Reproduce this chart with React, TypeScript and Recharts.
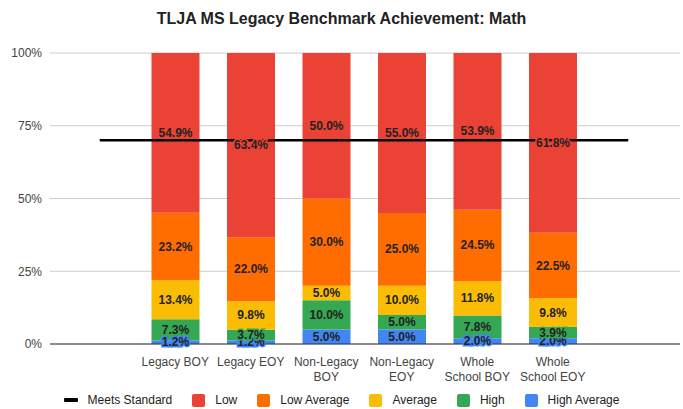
import { ComposedChart, Bar, Line, XAxis, YAxis, CartesianGrid, LabelList } from 'recharts';

// first and last slots are empty so the Meets Standard line runs past the bars
const categories = ['', 'Legacy BOY', 'Legacy EOY', 'Non-Legacy BOY', 'Non-Legacy EOY', 'Whole School BOY', 'Whole School EOY', ''];
const highAverage = [null, 1.2, 1.2, 5.0, 5.0, 2.0, 2.0, null];
const high = [null, 7.3, 3.7, 10.0, 5.0, 7.8, 3.9, null];
const average = [null, 13.4, 9.8, 5.0, 10.0, 11.8, 9.8, null];
const lowAverage = [null, 23.2, 22.0, 30.0, 25.0, 24.5, 22.5, null];
const low = [null, 54.9, 63.4, 50.0, 55.0, 53.9, 61.8, null];
const meetsStandard = [70, 70, 70, 70, 70, 70, 70, 70];
const yTicks = [0, 25, 50, 75, 100];

const data = categories.map((name, i) => ({
  name,
  highAverage: highAverage[i],
  high: high[i],
  average: average[i],
  lowAverage: lowAverage[i],
  low: low[i],
  meets: meetsStandard[i],
}));

const FONT = '"Liberation Sans", Arial, sans-serif';

const series = [
  { key: 'highAverage', name: 'High Average', color: '#4285F4' },
  { key: 'high', name: 'High', color: '#34A853' },
  { key: 'average', name: 'Average', color: '#FBBC04' },
  { key: 'lowAverage', name: 'Low Average', color: '#FF6D01' },
  { key: 'low', name: 'Low', color: '#EA4335' },
];

function wrap(label: string, max = 11) {
  const lines: string[] = [];
  let cur = '';
  label.split(' ').forEach((w) => {
    if (!cur) cur = w;
    else if ((cur + ' ' + w).length <= max) cur += ' ' + w;
    else {
      lines.push(cur);
      cur = w;
    }
  });
  if (cur) lines.push(cur);
  return lines;
}

const CategoryTick = (props: any) => {
  const { x, y, payload } = props;
  const lines = wrap(payload.value || '');
  return (
    <text x={x} y={y + 10} textAnchor="middle" fontSize={12} fill="#444" fontFamily={FONT}>
      {lines.map((l, i) => (
        <tspan key={i} x={x} dy={i === 0 ? 4 : 15}>
          {l}
        </tspan>
      ))}
    </text>
  );
};

const makeLabel = (color: string) => (props: any) => {
  const { x, y, width, height, value } = props;
  if (value == null) return null;
  return (
    <text
      x={x + width / 2}
      y={y + height / 2}
      textAnchor="middle"
      dominantBaseline="central"
      fontSize={12}
      fontWeight="bold"
      fontFamily={FONT}
      fill="#222"
      stroke={color}
      strokeWidth={3}
      paintOrder="stroke"
    >
      {Number(value).toFixed(1) + '%'}
    </text>
  );
};

const legendItems = [
  { name: 'Meets Standard', color: '#000', line: true },
  { name: 'Low', color: '#EA4335' },
  { name: 'Low Average', color: '#FF6D01' },
  { name: 'Average', color: '#FBBC04' },
  { name: 'High', color: '#34A853' },
  { name: 'High Average', color: '#4285F4' },
];

export default function App() {
  return (
    <div style={{ position: 'absolute', left: 0, top: 0, width: 683, height: 409, background: '#fff', fontFamily: FONT }}>
      <div style={{ position: 'absolute', top: 10, width: 683, textAlign: 'center', fontSize: 16, fontWeight: 'bold', color: '#222' }}>
        TLJA MS Legacy Benchmark Achievement: Math
      </div>
      <ComposedChart width={683} height={409} data={data} margin={{ top: 53, right: 3, bottom: 25, left: 0 }}>
        <CartesianGrid vertical={false} stroke="#ccc" />
        <XAxis
          dataKey="name"
          tick={<CategoryTick />}
          tickLine={false}
          axisLine={{ stroke: '#333' }}
          interval={0}
          height={40}
          padding={{ left: 12, right: 14 }}
        />
        <YAxis
          domain={[0, 100]}
          ticks={yTicks}
          allowDataOverflow
          tickFormatter={(v) => `${v}%`}
          tickLine={false}
          axisLine={false}
          width={50}
          tick={{ fontSize: 12, fill: '#444', fontFamily: FONT }}
        />
        {series.map((s) => (
          <Bar key={s.key} dataKey={s.key} stackId="a" fill={s.color} barSize={48} isAnimationActive={false}>
            <LabelList dataKey={s.key} content={makeLabel(s.color)} />
          </Bar>
        ))}
        <Line dataKey="meets" stroke="#000" strokeWidth={2.5} dot={false} isAnimationActive={false} />
      </ComposedChart>
      <div
        style={{
          position: 'absolute',
          top: 393,
          left: 0,
          width: 683,
          display: 'flex',
          justifyContent: 'center',
          gap: 20,
          fontSize: 12,
          color: '#222',
        }}
      >
        {legendItems.map((it) => (
          <div key={it.name} style={{ display: 'flex', alignItems: 'center', gap: 10 }}>
            {it.line ? (
              <span style={{ width: 14, height: 4, background: it.color, borderRadius: 1 }} />
            ) : (
              <span style={{ width: 13, height: 13, background: it.color, borderRadius: 2 }} />
            )}
            <span>{it.name}</span>
          </div>
        ))}
      </div>
    </div>
  );
}
